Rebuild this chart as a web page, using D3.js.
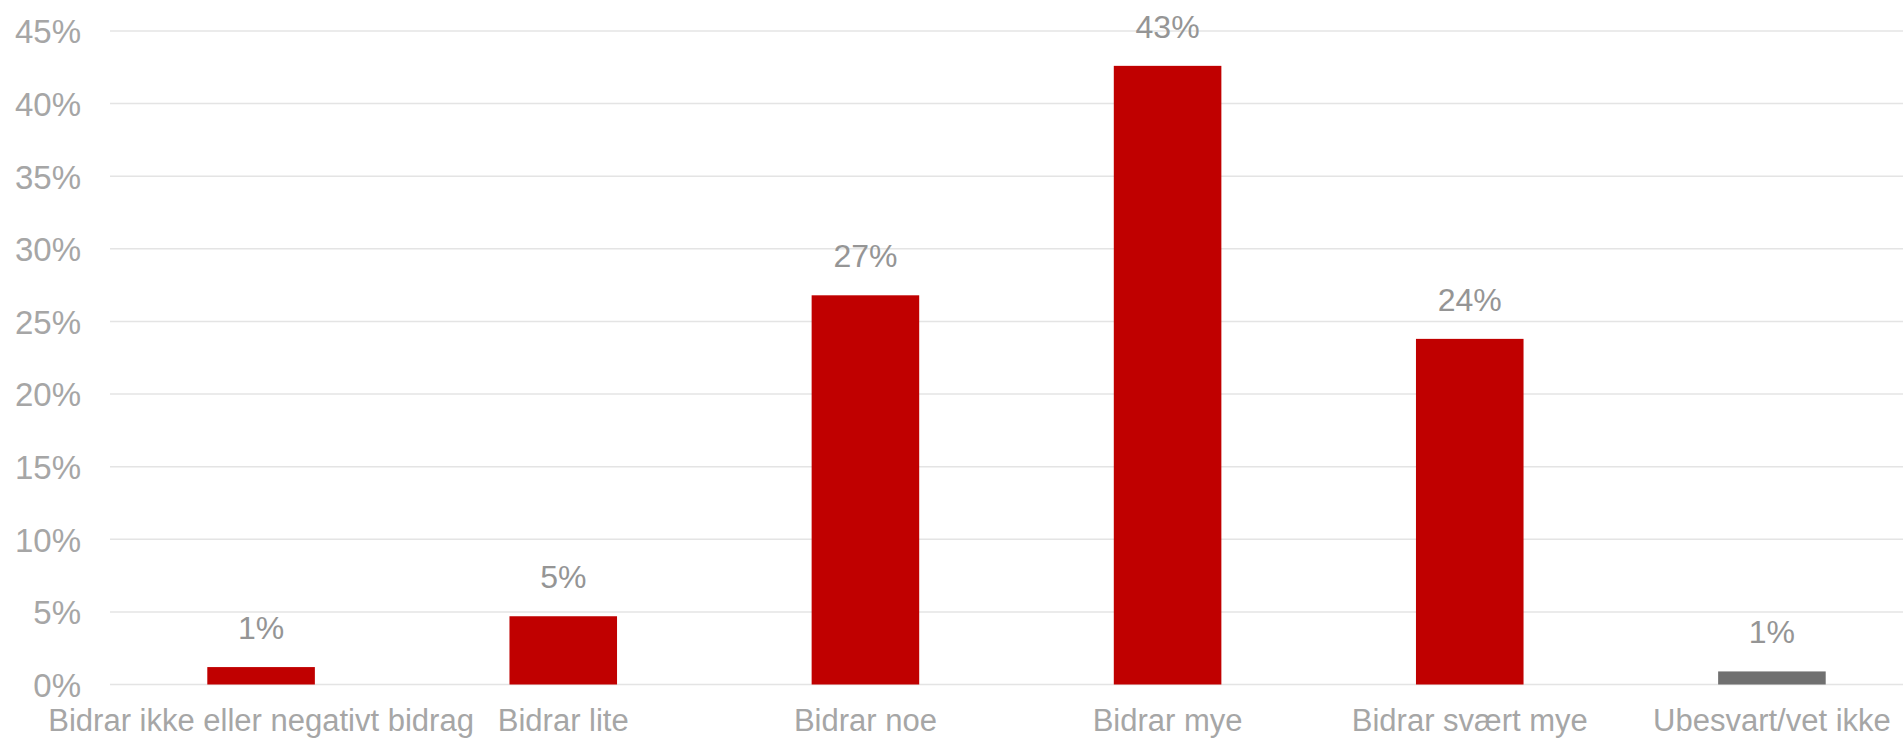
<!DOCTYPE html>
<html>
<head>
<meta charset="utf-8">
<script src="https://cdn.jsdelivr.net/npm/d3@7"></script>
<style>
  html, body { margin: 0; padding: 0; background: #ffffff; overflow: hidden; }
  text { font-family: "Liberation Sans", Arial, sans-serif; }
</style>
</head>
<body>
<svg id="chart" width="1903" height="741"></svg>
<script>
// Survey answers: how much does it contribute?
const categories = [
  "Bidrar ikke eller negativt bidrag",
  "Bidrar lite",
  "Bidrar noe",
  "Bidrar mye",
  "Bidrar svært mye",
  "Ubesvart/vet ikke"
];
const shares = [0.012, 0.047, 0.268, 0.426, 0.238, 0.009];
const barColors = ["#C00000", "#C00000", "#C00000", "#C00000", "#C00000", "#707070"];
const yTicks = [0, 0.05, 0.10, 0.15, 0.20, 0.25, 0.30, 0.35, 0.40, 0.45];

const svg = d3.select("#chart");
const W = 1903;

const x = d3.scaleBand()
  .domain(categories)
  .range([110, 1923])
  .paddingInner(0.644)
  .paddingOuter(0.322);

const y = d3.scaleLinear()
  .domain([0, 0.45])
  .range([684.5, 31]);

const pct = d3.format(".0%");

// horizontal gridlines
svg.append("g")
  .selectAll("line")
  .data(yTicks)
  .join("line")
  .attr("x1", 110)
  .attr("x2", W)
  .attr("y1", d => y(d))
  .attr("y2", d => y(d))
  .attr("stroke", "#E4E4E4")
  .attr("stroke-width", 1.5);

// y-axis tick labels
const yAxis = d3.axisLeft(y).tickValues(yTicks).tickFormat(pct).tickSize(0).tickPadding(0);
const gy = svg.append("g").attr("transform", "translate(81,0)").call(yAxis);
gy.select(".domain").remove();
gy.selectAll("text")
  .attr("fill", "#A6A6A6")
  .attr("font-size", 33)
  .attr("font-family", "Liberation Sans, Arial, sans-serif")
  .attr("dy", "0.36em");

// bars
svg.append("g")
  .selectAll("rect")
  .data(shares)
  .join("rect")
  .attr("x", (d, i) => x(categories[i]))
  .attr("width", x.bandwidth())
  .attr("y", d => y(d))
  .attr("height", d => y(0) - y(d))
  .attr("fill", (d, i) => barColors[i]);

// value labels above bars
svg.append("g")
  .selectAll("text")
  .data(shares)
  .join("text")
  .attr("x", (d, i) => x(categories[i]) + x.bandwidth() / 2)
  .attr("y", d => y(d) - 28)
  .attr("text-anchor", "middle")
  .attr("font-size", 32)
  .attr("fill", "#959595")
  .text(d => pct(d));

// category labels
const xAxis = d3.axisBottom(x).tickSize(0).tickPadding(0);
const gx = svg.append("g").attr("transform", "translate(0,731)").call(xAxis);
gx.select(".domain").remove();
gx.selectAll("text")
  .attr("fill", "#A6A6A6")
  .attr("font-size", 31)
  .attr("font-family", "Liberation Sans, Arial, sans-serif")
  .attr("dy", 0)
  .attr("y", 0);
</script>
</body>
</html>
